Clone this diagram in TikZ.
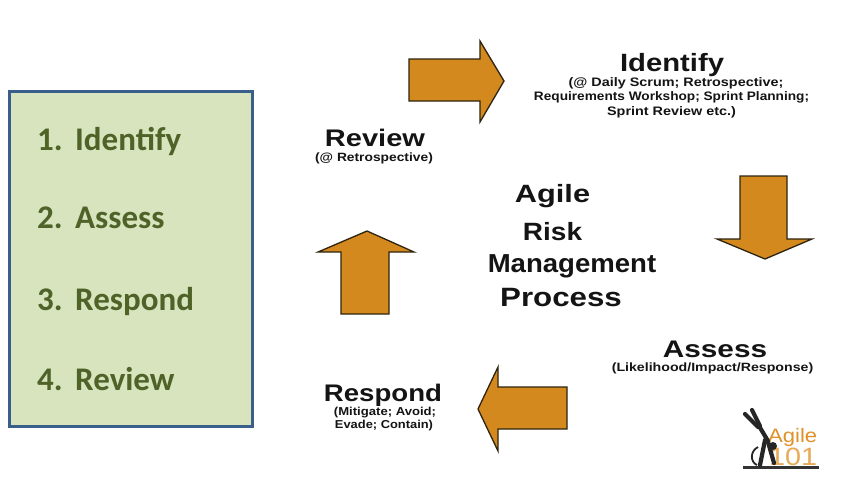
\documentclass[tikz,border=0pt]{standalone}
\usepackage{fontspec}
\usepackage{graphicx}
\setmainfont{Liberation Sans}
\newfontfamily\carl{Carlito}
\definecolor{boxfill}{HTML}{D7E4BD}
\definecolor{boxedge}{HTML}{3A5F8B}
\definecolor{boxtext}{HTML}{4F6228}
\definecolor{arrowfill}{RGB}{212,137,30}
\definecolor{arrowedge}{HTML}{2E2410}
\definecolor{logoA}{HTML}{E0912A}
\definecolor{logoB}{HTML}{E9A955}
\newcommand\wt[3]{\scalebox{#2}[1]{\fontsize{#1pt}{#1pt}\selectfont #3}}
\tikzset{
  lbl/.style={inner sep=0pt, anchor=base, font=\bfseries, text=black!92},
  arrowshape/.style={fill=arrowfill, draw=arrowedge, line width=1.3pt, line join=miter},
  listitem/.style={inner sep=0pt, anchor=base west, text=boxtext, font=\carl\bfseries\fontsize{33pt}{33pt}\selectfont},
  figline/.style={draw=black!85, line width=4.2pt, line cap=round, line join=round}
}
\begin{document}
\begin{tikzpicture}[x=1pt,y=-1pt]
\useasboundingbox (0,0) rectangle (850,491);
\fill[white] (0,0) rectangle (850,491);

% left list box
\draw[fill=boxfill, draw=boxedge, line width=3pt] (9,91) rectangle (252,426);
\node[listitem] (l1) at (37,150) {\makebox[38pt][l]{1.}Identify};
\node[listitem] (l2) at (37,228) {\makebox[38pt][l]{2.}Assess};
\node[listitem] (l3) at (37,310) {\makebox[38pt][l]{3.}Respond};
\node[listitem] (l4) at (37,390) {\makebox[38pt][l]{4.}Review};

% arrows
\draw[arrowshape] (409,59) -- (480,59) -- (480,41) -- (504,81) -- (480,122) -- (480,101) -- (409,101) -- cycle;
\draw[arrowshape] (740,176) -- (787,176) -- (787,239) -- (812,239) -- (765,259) -- (717,239) -- (740,239) -- cycle;
\draw[arrowshape] (567,387) -- (567,429) -- (498,429) -- (498,451) -- (478,409) -- (498,367) -- (498,387) -- cycle;
\draw[arrowshape] (341,314) -- (389,314) -- (389,252) -- (414,252) -- (367,231) -- (318,252) -- (341,252) -- cycle;

% Identify
\node[lbl] (id) at (672,71) {\wt{25}{1.17}{Identify}};
\node[lbl] (id1) at (676,86) {\wt{12.3}{1.17}{(@ Daily Scrum; Retrospective;}};
\node[lbl] (id2) at (671.5,100.5) {\wt{12.3}{1.11}{Requirements Workshop; Sprint Planning;}};
\node[lbl] (id3) at (671.5,115) {\wt{12.3}{1.17}{Sprint Review etc.)}};

% Review
\node[lbl] (rv) at (375,146.5) {\wt{24}{1.21}{Review}};
\node[lbl] (rv1) at (374,161) {\wt{12}{1.15}{(@ Retrospective)}};

% centre title
\node[lbl] (t1) at (552.5,202) {\wt{25}{1.23}{Agile}};
\node[lbl] (t2) at (552.5,240) {\wt{25}{1.12}{Risk}};
\node[lbl] (t3) at (572,272) {\wt{26}{1.06}{Management}};
\node[lbl] (t4) at (561,306) {\wt{26.5}{1.18}{Process}};

% Assess
\node[lbl] (as) at (715,357) {\wt{24}{1.24}{Assess}};
\node[lbl] (as1) at (712.5,371) {\wt{12}{1.18}{(Likelihood/Impact/Response)}};

% Respond
\node[lbl] (rs) at (383,401.5) {\wt{24}{1.15}{Respond}};
\node[lbl] (rs1) at (385,415) {\wt{11.5}{1.14}{(Mitigate; Avoid;}};
\node[lbl] (rs2) at (384,428.5) {\wt{11.5}{1.12}{Evade; Contain)}};

% logo
\node[inner sep=0pt, anchor=base west, text=logoA] (lg1) at (768,442) {\wt{19.5}{1.13}{Agile}};
\node[inner sep=0pt, anchor=base west, text=logoB] (lg2) at (769,465) {\wt{25}{1.15}{101}};
\fill[black!80] (743,466) rectangle (819,469);
\draw[figline] (745,414) -- (758,427);
\draw[figline] (752,410) -- (760,426);
\draw[figline] (759,426) -- (768,441);
\fill[black!85] (773,446) circle (4);
\draw[figline] (765,440) -- (760,465);
\draw[figline] (768,442) -- (774,463);
\draw[black!85, line width=1.8pt] (758,447) .. controls (750,451) and (750,462) .. (757,465);
\end{tikzpicture}
\end{document}
